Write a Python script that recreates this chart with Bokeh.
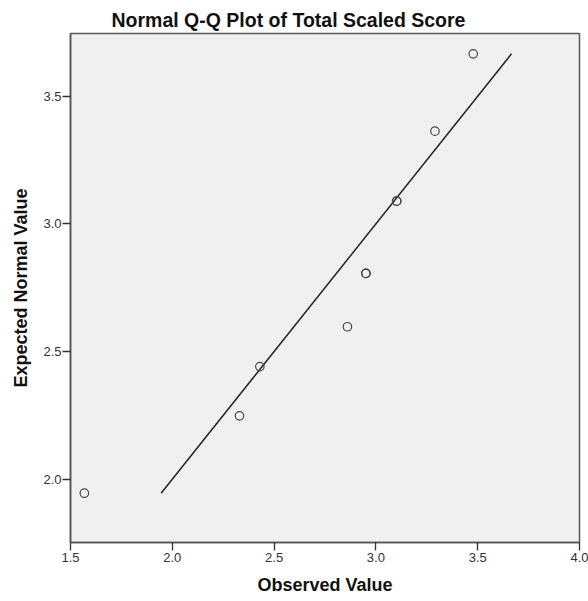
from bokeh.plotting import figure
from bokeh.models import FixedTicker, PrintfTickFormatter, Range1d, ColumnDataSource
from bokeh.embed import file_html
from bokeh.resources import INLINE

# Data (tied points drawn twice -> darker rings)
observed = [1.568, 2.330, 2.430, 2.860, 2.951, 2.951, 3.102, 3.102, 3.290, 3.478]
expected = [1.945, 2.248, 2.441, 2.597, 2.806, 2.806, 3.089, 3.089, 3.363, 3.666]
x_ticks = [1.5, 2.0, 2.5, 3.0, 3.5, 4.0]
y_ticks = [2.0, 2.5, 3.0, 3.5]

title_text = "Normal Q-Q Plot of Total Scaled Score"
x_label = "Observed Value"
y_label = "Expected Normal Value"

FONT = "Liberation Sans"

p = figure(width=588, height=601, output_backend="svg", toolbar_location=None,
           x_range=Range1d(1.5, 4.0), y_range=Range1d(1.752, 3.7456),
           min_border_left=70, min_border_right=9, min_border_top=33, min_border_bottom=59)

p.title.text = title_text
p.title.align = "left"
p.title.offset = 41
p.title.text_font = FONT
p.title.text_font_size = "19.5px"
p.title.text_font_style = "bold"
p.title.text_color = "#111111"
p.title.standoff = 6

p.background_fill_color = "#F0F0F0"
p.border_fill_color = "white"
p.outline_line_color = "#5a5a5a"
p.outline_line_width = 1.5
p.xgrid.visible = False
p.ygrid.visible = False

for ax in (p.xaxis[0], p.yaxis[0]):
    ax.axis_line_color = "#555555"
    ax.axis_line_width = 1.6
    ax.major_tick_line_color = "#333333"
    ax.major_tick_line_width = 1.3
    ax.major_tick_out = 8
    ax.major_tick_in = 0
    ax.minor_tick_line_color = None
    ax.major_label_text_font = FONT
    ax.major_label_text_font_size = "13px"
    ax.major_label_text_color = "#333333"
    ax.axis_label_text_font = FONT
    ax.axis_label_text_font_size = "18px"
    ax.axis_label_text_font_style = "bold"
    ax.axis_label_text_color = "#111111"
    ax.formatter = PrintfTickFormatter(format="%.1f")

p.xaxis[0].ticker = FixedTicker(ticks=x_ticks)
p.yaxis[0].ticker = FixedTicker(ticks=y_ticks)
p.xaxis[0].axis_label = x_label
p.yaxis[0].axis_label = y_label
p.xaxis[0].major_label_standoff = 2
p.yaxis[0].major_label_standoff = 1
p.xaxis[0].axis_label_standoff = 10
p.yaxis[0].axis_label_standoff = 9

# reference line y = x spanning the expected-value range
lo, hi = min(expected), max(expected)
p.line([lo, hi], [lo, hi], line_color="#222222", line_width=1.5)

src = ColumnDataSource(dict(x=observed, y=expected))
p.scatter("x", "y", source=src, marker="circle", size=8.5,
          fill_color=None, line_color="#444444", line_width=1.2)

open("out.html", "w").write(file_html(p, INLINE))
